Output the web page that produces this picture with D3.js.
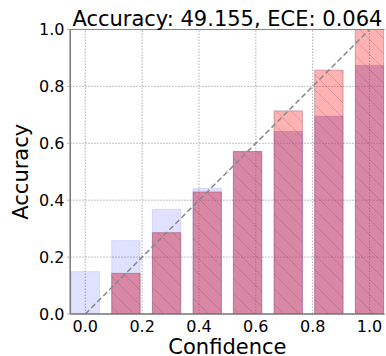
<!DOCTYPE html>
<html>
<head>
<meta charset="utf-8">
<title>Reliability Diagram</title>
<style>
  body { margin: 0; background: #fff; }
  text { font-family: 'DejaVu Sans', sans-serif; fill: #000; }
</style>
</head>
<body>
<script src="https://d3js.org/d3.v7.min.js"></script>
<script>
// bin centres, accuracy per bin, confidence (expected) per bin
var bins = [0.0, 0.143, 0.286, 0.429, 0.571, 0.714, 0.857, 1.0];
var accuracy = [0.149, 0.258, 0.368, 0.442, 0.572, 0.642, 0.696, 0.874];
var confidence = [0.0, 0.143, 0.286, 0.429, 0.571, 0.714, 0.857, 1.0];
var ticks = [0.0, 0.2, 0.4, 0.6, 0.8, 1.0];
var title = "Accuracy: 49.155, ECE: 0.064";
var barWidth = 0.1;

var W = 386, H = 356;
var svg = d3.select("body").append("svg")
    .attr("width", W)
    .attr("height", H);

var x = d3.scaleLinear().domain([-0.053, 1.053]).range([70.2, 384.6]);
var y = d3.scaleLinear().domain([0, 1]).range([314, 29.5]);

var defs = svg.append("defs");
defs.append("clipPath").attr("id", "plot")
  .append("rect")
    .attr("x", x.range()[0]).attr("y", y(1))
    .attr("width", x.range()[1] - x.range()[0])
    .attr("height", y(0) - y(1));

var hatch = defs.append("pattern")
    .attr("id", "hatch")
    .attr("patternUnits", "userSpaceOnUse")
    .attr("width", 15).attr("height", 15);
hatch.append("path")
    .attr("d", "M-1,-1 L16,16 M-1,14 L1,16 M14,-1 L16,1")
    .attr("stroke", "rgba(110,50,80,0.25)")
    .attr("stroke-width", 0.8);

var data = bins.map(function(b, i){
  return {bin: b, acc: accuracy[i], conf: confidence[i]};
});

var plot = svg.append("g").attr("clip-path", "url(#plot)");

// grid
plot.selectAll(".vgrid").data(ticks).enter().append("line")
    .attr("x1", function(d){ return x(d); }).attr("x2", function(d){ return x(d); })
    .attr("y1", y(0)).attr("y2", y(1))
    .attr("stroke", "#999").attr("stroke-width", 0.8)
    .attr("stroke-dasharray", "1.5,1.5");
plot.selectAll(".hgrid").data(ticks).enter().append("line")
    .attr("x1", x.range()[0]).attr("x2", x.range()[1])
    .attr("y1", function(d){ return y(d); }).attr("y2", function(d){ return y(d); })
    .attr("stroke", "#999").attr("stroke-width", 0.8)
    .attr("stroke-dasharray", "1.5,1.5");

// accuracy bars (blue)
plot.selectAll(".acc").data(data).enter().append("rect")
    .attr("x", function(d){ return x(d.bin - barWidth / 2); })
    .attr("width", function(d){ return x(d.bin + barWidth / 2) - x(d.bin - barWidth / 2); })
    .attr("y", function(d){ return y(d.acc); })
    .attr("height", function(d){ return y(0) - y(d.acc); })
    .attr("fill", "rgba(0,0,255,0.12)")
    .attr("stroke", "rgba(0,0,255,0.1)")
    .attr("stroke-width", 1);

// confidence bars (red)
plot.selectAll(".conf").data(data).enter().append("rect")
    .attr("x", function(d){ return x(d.bin - barWidth / 2); })
    .attr("width", function(d){ return x(d.bin + barWidth / 2) - x(d.bin - barWidth / 2); })
    .attr("y", function(d){ return y(d.conf); })
    .attr("height", function(d){ return y(0) - y(d.conf); })
    .attr("fill", "rgba(255,0,0,0.3)");

// overlap of the two
plot.selectAll(".overlap").data(data).enter().append("rect")
    .attr("x", function(d){ return x(d.bin - barWidth / 2); })
    .attr("width", function(d){ return x(d.bin + barWidth / 2) - x(d.bin - barWidth / 2); })
    .attr("y", function(d){ return y(Math.min(d.acc, d.conf)); })
    .attr("height", function(d){ return y(0) - y(Math.min(d.acc, d.conf)); })
    .attr("fill", "rgba(190,105,145,0.4)");

// hatching + edge on red bars
plot.selectAll(".confedge").data(data.filter(function(d){ return d.conf > 0; })).enter().append("rect")
    .attr("x", function(d){ return x(d.bin - barWidth / 2); })
    .attr("width", function(d){ return x(d.bin + barWidth / 2) - x(d.bin - barWidth / 2); })
    .attr("y", function(d){ return y(d.conf); })
    .attr("height", function(d){ return y(0) - y(d.conf); })
    .attr("fill", "url(#hatch)")
    .attr("stroke", "rgba(120,60,85,0.35)")
    .attr("stroke-width", 1);

// perfect calibration line
plot.append("line")
    .attr("x1", x(0)).attr("y1", y(0))
    .attr("x2", x(1)).attr("y2", y(1))
    .attr("stroke", "#888").attr("stroke-width", 1.5)
    .attr("stroke-dasharray", "5.5,3");

// spines
svg.append("line")
    .attr("x1", x.range()[0]).attr("x2", x.range()[1])
    .attr("y1", y(1)).attr("y2", y(1))
    .attr("stroke", "#888").attr("stroke-width", 1);
svg.append("line")
    .attr("x1", x.range()[0]).attr("x2", x.range()[0])
    .attr("y1", y(0)).attr("y2", y(1))
    .attr("stroke", "#777").attr("stroke-width", 1.5);
svg.append("line")
    .attr("x1", x.range()[0]).attr("x2", x.range()[1])
    .attr("y1", y(0)).attr("y2", y(0))
    .attr("stroke", "#777").attr("stroke-width", 1.5);

// tick labels
svg.selectAll(".xt").data(ticks).enter().append("text")
    .attr("x", function(d){ return x(d); })
    .attr("y", 331.5)
    .attr("text-anchor", "middle")
    .attr("font-size", "16px")
    .text(function(d){ return d3.format(".1f")(d); });
svg.selectAll(".yt").data(ticks).enter().append("text")
    .attr("x", 64.5)
    .attr("y", function(d){ return y(d) + 5.8; })
    .attr("text-anchor", "end")
    .attr("font-size", "16px")
    .text(function(d){ return d3.format(".1f")(d); });
svg.selectAll(".ytick").data(ticks).enter().append("line")
    .attr("x1", x.range()[0] - 3).attr("x2", x.range()[0])
    .attr("y1", function(d){ return y(d); }).attr("y2", function(d){ return y(d); })
    .attr("stroke", "#aaa").attr("stroke-width", 1);

// labels
svg.append("text")
    .attr("x", (x.range()[0] + x.range()[1]) / 2)
    .attr("y", 25.5)
    .attr("text-anchor", "middle")
    .attr("font-size", "21px")
    .text(title);
svg.append("text")
    .attr("x", (x.range()[0] + x.range()[1]) / 2)
    .attr("y", 353.5)
    .attr("text-anchor", "middle")
    .attr("font-size", "21px")
    .text("Confidence");
svg.append("text")
    .attr("transform", "translate(27.5," + ((y(0) + y(1)) / 2) + ") rotate(-90)")
    .attr("text-anchor", "middle")
    .attr("font-size", "21px")
    .text("Accuracy");
</script>
</body>
</html>
